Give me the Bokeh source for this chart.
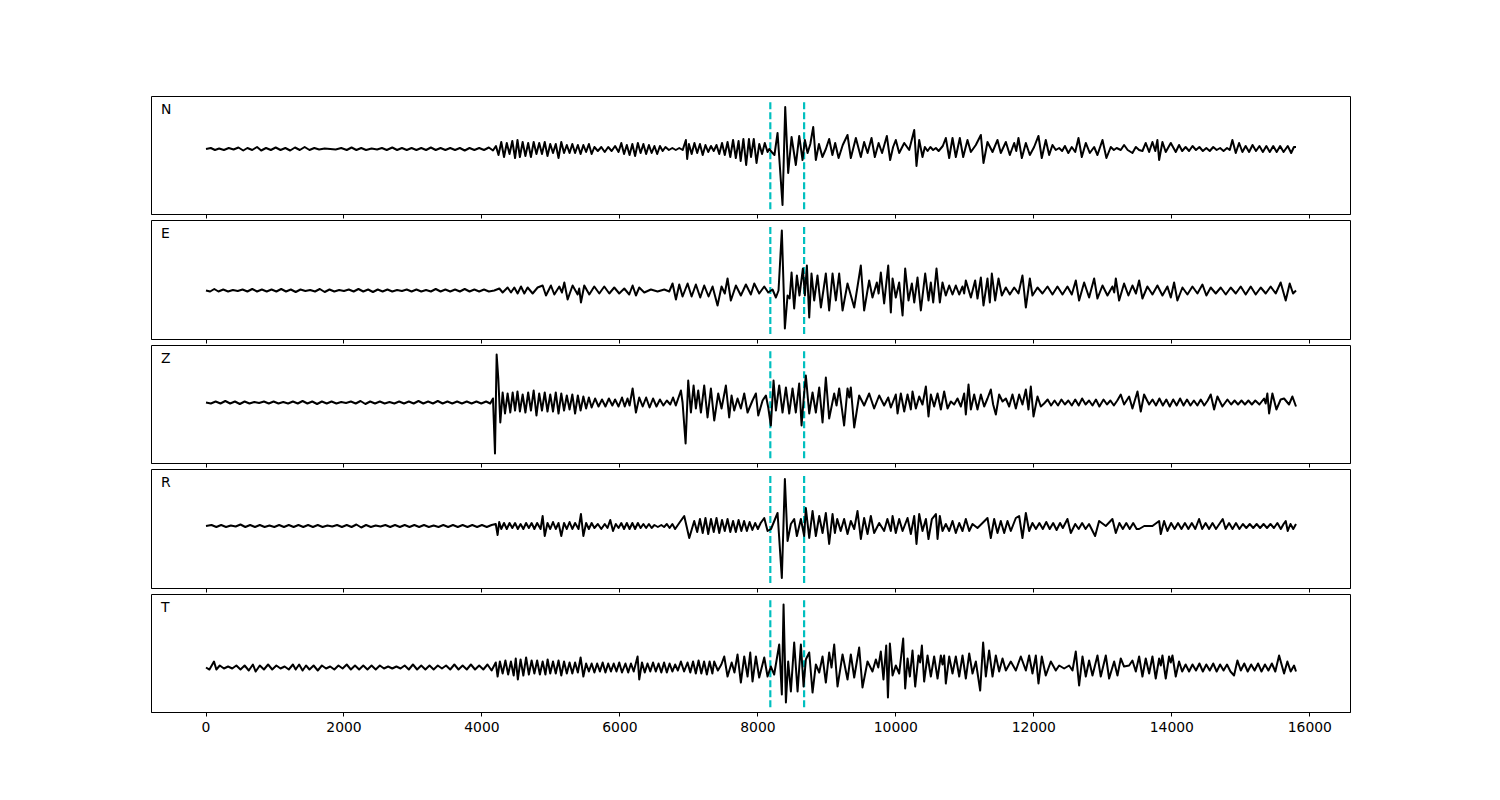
from bokeh.plotting import figure
from bokeh.layouts import column
from bokeh.models import Range1d, FixedTicker, Label
from bokeh.embed import file_html
from bokeh.resources import INLINE

# ---------------- data (time, amplitude) ----------------
components = ["N", "E", "Z", "R", "T"]
arrivals = [8180, 8670]
marker_lo = [-60.1, -43.6, -55.6, -57.1, -39.6]
marker_hi = [47.1, 64.6, 51.6, 51.1, 67.6]
xticks = [0, 2000, 4000, 6000, 8000, 10000, 12000, 14000, 16000]
t_min, t_max = 0, 15800

n_points = [(0,0),(70,1),(130,-1),(190,0.5),(260,-1),(330,1),(400,-0.5),(470,1.5),(540,-1.5),(600,1),
 (670,-1),(740,2),(800,-1.5),(870,1),(940,-1),(1010,1.5),(1080,-1),(1150,1),(1220,-1.5),(1290,1.5),
 (1360,-1),(1430,2),(1500,-1),(1570,1),(1640,-0.5),(1720,0.5),(1800,0),(1880,-0.5),(1960,1),(2040,-1),
 (2110,1.5),(2180,-1),(2250,1),(2320,-1),(2400,0.5),(2480,-0.5),(2550,1),(2620,-1),(2700,1.5),(2770,-1),
 (2840,1),(2910,-1),(2980,1),(3050,-1),(3120,1),(3190,-1),(3260,1.5),(3330,-1),(3400,1),(3470,-1),
 (3540,1),(3610,-1),(3680,1),(3750,-1.5),(3820,1),(3890,-1),(3960,1),(4030,-1),(4100,1.5),(4160,-1.5),
 (4203,3),(4240,-6),(4280,7),(4320,-8),(4360,6),(4400,-5),(4440,8),(4480,-9),(4515,9),(4550,-8),
 (4590,7),(4630,-7),(4670,6),(4710,-8),(4750,7),(4790,-5),(4830,6),(4870,-5),(4910,7),(4950,-7),
 (4990,5),(5030,-4),(5070,5),(5110,-9),(5150,7),(5190,-4),(5230,4),(5270,-4),(5310,5),(5350,-4),
 (5390,4),(5430,-5),(5470,4),(5510,-3),(5550,5),(5590,-5),(5630,2),(5680,-2),(5730,2),(5780,-3),
 (5830,2),(5880,-2),(5930,3),(5980,-3),(6020,6),(6060,-5),(6100,4),(6140,-6),(6180,5),(6220,-7),
 (6260,6),(6300,-4),(6340,5),(6380,-5),(6420,4),(6460,-4),(6500,3),(6540,-5),(6580,3),(6620,-2),
 (6660,2),(6710,-1),(6760,1),(6810,-1),(6860,1),(6910,-1),(6956,9),(6975,-10),(7000,5),(7040,-5),
 (7080,6),(7120,-4),(7160,5),(7200,-6),(7240,4),(7280,-3),(7320,3),(7360,-2),(7400,4),(7440,-5),
 (7480,6),(7520,-6),(7560,7),(7600,-8),(7640,9),(7680,-9),(7720,8),(7750,-12),(7790,10),(7830,-16),
 (7870,10),(7900,-8),(7940,10),(7980,-14),(8020,5),(8060,-5),(8100,6),(8140,-3),(8164,0),(8200,-3),
 (8240,-6),(8285,16),(8357,-56),(8396,42),(8439,-24),(8488,12),(8550,-16),(8599,13),(8647,-11),(8681,9),
 (8720,-4),(8760,5),(8802,22),(8840,-11),(8885,5),(8935,-8),(8985,0),(9033,10),(9080,-6),(9120,6),
 (9170,-9),(9230,4),(9299,14),(9347,-9),(9420,11),(9492,-8),(9540,7),(9590,-4),(9647,11),(9695,-8),
 (9750,6),(9800,-4),(9869,13),(9917,-11),(9960,2),(9999,9),(10048,-4),(10121,6),(10193,-1),(10266,19),
 (10299,-17),(10338,9),(10386,-8),(10420,2),(10460,-2),(10500,2),(10540,-1),(10580,1),(10620,-2),(10680,3),
 (10724,11),(10773,-9),(10821,11),(10869,-8),(10927,11),(10976,-8),(11038,9),(11087,-3),(11159,4),(11232,14),
 (11270,-14),(11328,7),(11401,-3),(11473,9),(11521,-4),(11594,7),(11652,-6),(11715,6),(11745,-2),(11777,11),
 (11826,-9),(11884,6),(11942,-6),(12004,2),(12067,13),(12115,-9),(12173,9),(12222,-6),(12270,4),(12318,-1),
 (12367,1),(12410,-2),(12450,3),(12500,-4),(12550,2),(12600,-3),(12647,11),(12695,-8),(12753,6),(12811,-4),
 (12874,2),(12922,-6),(12995,9),(13052,-9),(13115,2),(13160,-1),(13200,1),(13260,-1),(13308,4),(13360,-1),
 (13429,-4),(13478,2),(13526,-1),(13574,-2),(13622,6),(13671,-3),(13719,7),(13760,-2),(13791,9),(13816,-11),
 (13864,7),(13912,-3),(13985,6),(14057,-3),(14105,4),(14150,-2),(14200,2),(14250,-2),(14300,3),(14350,-1),
 (14400,2),(14450,-2),(14500,1),(14550,-2),(14600,2),(14650,-1),(14700,1),(14750,-2),(14800,1),(14840,-1),
 (14878,9),(14927,-4),(14975,6),(15023,-3),(15070,3),(15120,-3),(15170,4),(15220,-2),(15270,3),(15320,-3),
 (15370,3),(15420,-3),(15470,3),(15520,-3),(15570,3),(15620,-3),(15680,3),(15730,-4),(15770,2),(15800,2)]

e_points = [(0,0),(60,-1),(120,1.5),(180,-1),(250,1),(320,-1),(390,0.5),(460,-0.5),(530,1),(600,-1),
 (670,1.5),(740,-1),(810,1),(880,-1),(950,1),(1020,-1),(1090,1.5),(1160,-1),(1230,1),(1300,-1.5),
 (1370,1),(1440,-0.5),(1510,0.5),(1580,-1),(1650,1.5),(1720,-1.5),(1790,1),(1860,-1),(1930,0.5),(2000,-0.5),
 (2070,1),(2140,-1),(2210,1.5),(2280,-1),(2350,1),(2420,-1.5),(2490,1),(2560,-1),(2630,1),(2700,-1),
 (2770,0.5),(2840,-0.5),(2910,1),(2980,-1),(3050,1),(3120,-1),(3190,0.5),(3260,-1),(3330,1.5),(3400,-1),
 (3470,1),(3540,-1),(3610,1),(3680,-1),(3750,1.5),(3820,-1),(3890,1),(3960,-1),(4030,1),(4100,-1),
 (4179,0),(4252,2),(4300,-2),(4372,3),(4421,-2),(4469,3),(4517,-3),(4566,4),(4614,-3),(4662,3),
 (4735,-3),(4807,3),(4880,5),(4928,-5),(5000,5),(5049,-4),(5121,4),(5160,-2),(5194,8),(5242,-9),
 (5314,5),(5387,-4),(5410,2),(5435,-12),(5483,5),(5556,-4),(5628,4),(5701,-3),(5773,4),(5846,-3),
 (5918,3),(5990,-3),(6063,2),(6135,-4),(6184,5),(6232,-5),(6280,3),(6353,-2),(6449,1),(6546,-1),
 (6643,1),(6715,-1),(6763,7),(6812,-9),(6860,6),(6908,-6),(6981,7),(7039,-6),(7101,6),(7164,-7),
 (7222,5),(7285,-6),(7343,4),(7415,-15),(7473,4),(7520,-3),(7560,12),(7608,-10),(7681,5),(7753,-5),
 (7826,6),(7898,-4),(7947,7),(8019,-3),(8092,4),(8150,-2),(8212,1),(8261,-7),(8299,0),(8347,60),
 (8391,-38),(8430,-5),(8460,-8),(8488,18),(8526,-18),(8565,15),(8603,-5),(8652,22),(8681,-5),(8710,25),
 (8744,-27),(8777,17),(8816,-10),(8864,15),(8913,-17),(8985,17),(9033,-20),(9082,17),(9130,-10),(9178,17),
 (9227,-20),(9299,7),(9396,-17),(9492,25),(9540,-20),(9613,10),(9661,-7),(9724,8),(9750,-3),(9782,18),
 (9830,-13),(9889,25),(9927,-22),(9952,12),(9999,-7),(10048,8),(10097,-25),(10135,22),(10183,-10),(10232,7),
 (10266,-12),(10314,13),(10362,-20),(10425,17),(10473,-10),(10507,8),(10541,-12),(10589,22),(10637,-12),(10676,8),
 (10724,-5),(10773,5),(10821,-4),(10869,5),(10918,-4),(10966,4),(10990,-3),(11014,10),(11087,-7),(11149,10),
 (11183,-8),(11232,13),(11270,-15),(11328,12),(11362,-12),(11391,17),(11439,-10),(11488,12),(11536,-5),(11594,3),
 (11652,-4),(11715,3),(11777,-3),(11835,15),(11884,-17),(11942,12),(11980,-5),(12053,3),(12125,-3),(12198,4),
 (12270,-4),(12342,4),(12415,-4),(12487,4),(12550,-4),(12608,10),(12656,-10),(12729,8),(12801,-7),(12874,12),
 (12922,-8),(12995,5),(13067,-5),(13139,4),(13165,-2),(13188,12),(13236,-10),(13308,7),(13371,-5),(13429,5),
 (13480,-3),(13526,10),(13574,-8),(13646,4),(13719,-4),(13791,5),(13864,-5),(13936,4),(13985,-7),(14033,8),
 (14081,-10),(14154,3),(14226,-4),(14299,4),(14371,-3),(14444,6),(14501,-5),(14564,3),(14637,-3),(14709,3),
 (14782,-4),(14854,3),(14927,-3),(14999,4),(15071,-4),(15144,4),(15216,-4),(15289,3),(15361,-3),(15433,4),
 (15506,-3),(15578,8),(15651,-10),(15709,7),(15757,-3),(15800,0)]

z_points = [(0,0),(70,-1),(140,1),(210,-1),(280,1.5),(350,-1),(420,1),(490,-1.5),(560,1),(630,-1),
 (700,0.5),(770,-0.5),(840,1),(910,-1),(980,1),(1050,-1),(1120,0.5),(1190,-1),(1260,1),(1330,-1),
 (1400,1.5),(1470,-1),(1540,1),(1610,-1.5),(1680,1),(1750,-1),(1820,1),(1890,-1),(1960,0.5),(2030,-0.5),
 (2100,1),(2170,-1),(2240,1.5),(2310,-1.5),(2380,1),(2450,-1),(2520,1),(2590,-1),(2660,0.5),(2730,-1),
 (2800,1),(2870,-1),(2940,1),(3010,-1),(3080,1.5),(3150,-1),(3220,1),(3290,-1),(3360,1.5),(3430,-1),
 (3500,1),(3570,-1),(3640,1),(3710,-1),(3780,1),(3850,-1),(3920,1),(3990,-1),(4060,1),(4120,-1),
 (4160,4),(4189,-51),(4213,48),(4237,24),(4266,-20),(4300,10),(4334,-11),(4372,9),(4411,-10),(4445,10),
 (4480,-8),(4515,11),(4550,-9),(4590,8),(4630,-10),(4670,10),(4710,-8),(4750,12),(4790,-13),(4830,9),
 (4870,-8),(4910,10),(4950,-9),(4990,8),(5030,-9),(5070,10),(5110,-11),(5150,9),(5190,-8),(5230,7),
 (5270,-7),(5310,8),(5350,-11),(5390,7),(5430,-8),(5470,6),(5510,-6),(5550,5),(5590,-5),(5640,4),
 (5690,-4),(5740,3),(5790,-4),(5840,4),(5890,-3),(5930,3),(5980,-4),(6030,5),(6070,-4),(6110,4),
 (6140,-3),(6184,14),(6232,-10),(6280,5),(6330,-4),(6380,5),(6430,-5),(6480,4),(6530,-4),(6580,3),
 (6630,-3),(6680,2),(6730,-2),(6770,5),(6810,-3),(6884,12),(6908,0),(6952,-41),(6990,22),(7029,-10),
 (7068,17),(7101,-6),(7135,12),(7174,-10),(7222,17),(7270,-15),(7319,14),(7367,-18),(7425,9),(7473,-6),
 (7536,17),(7584,-15),(7618,7),(7657,-8),(7705,4),(7753,-6),(7802,9),(7850,-10),(7922,2),(7971,9),
 (8005,-13),(8068,2),(8116,7),(8150,-5),(8188,-23),(8227,22),(8261,-8),(8309,17),(8357,-10),(8406,15),
 (8454,-11),(8502,14),(8550,-10),(8599,19),(8633,-23),(8665,5),(8695,27),(8744,-11),(8792,10),(8840,-10),
 (8889,15),(8937,-20),(8985,25),(9033,-16),(9106,9),(9140,-3),(9178,14),(9250,-23),(9299,14),(9325,5),
 (9347,15),(9396,-25),(9468,7),(9540,-3),(9613,9),(9685,-6),(9758,7),(9830,-3),(9889,5),(9927,-5),
 (9999,8),(10024,-11),(10072,9),(10121,-9),(10169,8),(10217,-7),(10241,11),(10290,-6),(10338,6),(10386,-2),
 (10435,16),(10473,-14),(10507,8),(10555,-4),(10604,9),(10652,-7),(10700,11),(10749,-6),(10797,1),(10845,-2),
 (10893,4),(10942,-4),(10990,9),(11014,-12),(11053,18),(11087,-7),(11135,8),(11183,-7),(11232,8),(11280,-4),
 (11328,4),(11376,13),(11410,-2),(11449,-12),(11497,8),(11546,1),(11594,4),(11642,-4),(11690,8),(11739,-6),
 (11787,8),(11835,-2),(11884,13),(11922,-7),(11956,16),(11995,-14),(12053,6),(12101,-4),(12149,-1),(12200,3),
 (12250,-3),(12300,2),(12350,-3),(12400,3),(12450,-2),(12500,2),(12550,-3),(12600,3),(12650,-3),(12700,4),
 (12750,-2),(12800,2),(12850,-3),(12900,3),(12950,-4),(13010,3),(13060,-2),(13110,2),(13160,-3),(13210,2),
 (13260,8),(13308,-2),(13381,6),(13429,-6),(13502,11),(13550,-9),(13598,8),(13671,-2),(13720,3),(13770,-3),
 (13820,4),(13870,-3),(13920,3),(13970,-4),(14020,3),(14070,-3),(14120,4),(14170,-3),(14220,3),(14270,-3),
 (14320,2),(14370,-3),(14420,3),(14470,-3),(14520,2),(14564,8),(14613,-7),(14661,6),(14733,-4),(14806,3),
 (14860,-2),(14910,2),(14960,-2),(15010,2),(15060,-2),(15110,2),(15160,-2),(15210,2),(15270,-2),(15337,4),
 (15360,-1),(15385,9),(15410,-11),(15458,9),(15516,-7),(15578,3),(15627,4),(15699,-2),(15748,6),(15800,-4)]

r_points = [(0,0),(80,1),(150,-1),(220,1),(290,-1),(360,0.5),(430,-0.5),(500,1.5),(570,-1),(640,1),
 (710,-1),(780,1),(850,-1),(920,0.5),(990,-1),(1060,1),(1130,-1),(1200,1),(1270,-1),(1340,1),
 (1410,-1),(1480,1),(1550,-1),(1620,1),(1690,-1),(1760,0.5),(1830,-0.5),(1900,1),(1970,-1),(2040,1),
 (2110,-1),(2180,1.5),(2250,-1.5),(2320,1),(2390,-1),(2460,0.5),(2530,-0.5),(2600,1),(2670,-1),(2740,1),
 (2810,-1),(2880,1),(2950,-1),(3020,1),(3090,-1),(3160,1),(3230,-1),(3300,0.5),(3370,-1),(3440,1),
 (3510,-1),(3580,1),(3650,-1),(3720,1),(3790,-1),(3860,1),(3930,-1),(4000,1),(4070,-1),(4140,1),
 (4200,2),(4227,-9),(4250,4),(4280,-3),(4320,3),(4360,-3),(4400,3),(4440,-2),(4480,3),(4520,-3),
 (4560,2),(4600,-3),(4640,3),(4680,-2),(4720,3),(4760,-3),(4800,3),(4850,-3),(4880,10),(4910,-10),
 (4950,3),(4990,-3),(5030,4),(5070,-3),(5110,3),(5150,-10),(5190,3),(5230,-3),(5270,4),(5310,-3),
 (5350,3),(5400,-3),(5435,12),(5470,-10),(5510,3),(5550,-3),(5590,3),(5630,-2),(5680,2),(5730,-3),
 (5780,2),(5820,-2),(5860,6),(5900,-5),(5940,2),(5980,-2),(6020,3),(6060,-3),(6100,3),(6140,-3),
 (6180,3),(6220,-3),(6260,3),(6300,-2),(6340,2),(6380,-2),(6420,2),(6460,-2),(6500,1),(6550,-1),
 (6600,1),(6640,-1),(6680,2),(6720,-2),(6760,2),(6800,-3),(6860,3),(6932,10),(7005,-12),(7077,5),
 (7120,-6),(7160,7),(7200,-7),(7240,8),(7280,-8),(7320,7),(7360,-6),(7400,8),(7440,-7),(7480,6),
 (7520,-5),(7560,7),(7600,-6),(7640,5),(7680,-6),(7720,6),(7760,-5),(7800,5),(7840,-5),(7880,4),
 (7920,-4),(7960,3),(8000,-3),(8040,3),(8092,8),(8140,-5),(8190,-3),(8285,13),(8347,-52),(8391,47),
 (8430,-15),(8478,2),(8526,7),(8565,-10),(8623,7),(8671,-10),(8695,18),(8744,-12),(8792,15),(8840,-10),
 (8889,10),(8937,-7),(8985,13),(9033,-18),(9082,12),(9116,-7),(9150,7),(9200,-5),(9250,7),(9299,-8),
 (9347,5),(9396,-3),(9444,15),(9492,-13),(9540,8),(9589,-8),(9637,10),(9685,-7),(9758,3),(9830,-5),
 (9877,7),(9927,-5),(9952,10),(9999,-7),(10048,7),(10097,-5),(10169,8),(10217,-8),(10266,10),(10299,-18),
 (10338,12),(10386,-5),(10435,7),(10473,-13),(10522,7),(10580,12),(10604,-13),(10637,10),(10676,-5),(10724,2),
 (10773,-5),(10821,5),(10869,-7),(10918,3),(10966,-5),(11014,7),(11063,-5),(11111,2),(11183,-2),(11256,3),
 (11328,8),(11376,-12),(11425,7),(11473,-7),(11521,5),(11570,-7),(11618,5),(11666,-5),(11739,8),(11787,10),
 (11835,-12),(11884,13),(11932,-5),(11980,3),(12030,-3),(12080,3),(12130,-3),(12180,4),(12230,-3),(12280,3),
 (12330,-4),(12380,3),(12420,-2),(12487,7),(12536,-7),(12600,2),(12650,-3),(12700,3),(12750,-3),(12800,2),
 (12888,-10),(12946,5),(13043,0),(13139,7),(13188,-7),(13240,3),(13290,-3),(13340,3),(13390,-3),(13440,3),
 (13490,-3),(13526,-3),(13600,0),(13671,0),(13719,0),(13816,5),(13840,-8),(13888,5),(13936,-5),(13990,3),
 (14040,-3),(14090,3),(14140,-3),(14190,3),(14240,-3),(14290,3),(14340,-3),(14395,7),(14440,-3),(14490,3),
 (14540,-3),(14590,3),(14640,-3),(14738,7),(14780,-3),(14830,3),(14880,-3),(14930,3),(14980,-3),(15030,2),
 (15080,-2),(15130,2),(15180,-2),(15230,2),(15280,-2),(15330,2),(15380,-2),(15430,2),(15480,-2),(15530,3),
 (15580,-3),(15620,2),(15651,5),(15680,-5),(15720,2),(15760,-3),(15800,2)]

t_points = [(0,0),(50,-2),(116,6),(150,-2),(200,2),(260,-1),(320,1),(380,-1),(440,2),(500,-2),
 (560,2),(620,-3),(680,3),(720,-4),(780,2),(840,-2),(900,3),(960,-2),(1020,2),(1080,-1),
 (1140,1),(1200,-2),(1260,3),(1300,-2),(1350,3),(1400,-3),(1450,2),(1500,-2),(1560,2),(1620,-3),
 (1680,2),(1740,-1),(1800,1),(1860,-2),(1920,2),(1980,-1),(2040,3),(2100,-2),(2160,2),(2220,-2),
 (2280,2),(2340,-2),(2400,2),(2460,-2),(2520,2),(2580,-1),(2640,1),(2700,-1),(2760,1),(2820,-1),
 (2880,2),(2940,-2),(3000,3),(3060,-2),(3120,2),(3180,-2),(3240,2),(3300,-2),(3360,2),(3420,-1),
 (3480,2),(3540,-2),(3600,3),(3660,-2),(3720,2),(3780,-2),(3840,3),(3900,-2),(3960,2),(4020,-2),
 (4080,3),(4140,-3),(4200,5),(4227,-9),(4260,6),(4300,-6),(4340,7),(4380,-7),(4420,6),(4460,-8),
 (4490,9),(4520,-12),(4560,8),(4600,-8),(4640,10),(4680,-7),(4720,7),(4760,-6),(4800,7),(4840,-7),
 (4880,6),(4920,-7),(4952,8),(4990,-6),(5030,6),(5070,-6),(5110,7),(5150,-8),(5190,6),(5230,-6),
 (5270,5),(5310,-6),(5350,5),(5390,-5),(5430,10),(5470,-9),(5510,4),(5550,-4),(5590,4),(5630,-5),
 (5670,4),(5710,-4),(5750,5),(5790,-5),(5830,4),(5870,-4),(5910,4),(5950,-4),(5990,5),(6030,-5),
 (6080,4),(6120,-5),(6160,4),(6200,-4),(6256,11),(6280,-12),(6320,5),(6360,-5),(6400,4),(6440,-4),
 (6480,5),(6520,-4),(6560,4),(6600,-5),(6640,5),(6680,-5),(6720,4),(6760,-4),(6800,3),(6840,-3),
 (6884,6),(6930,-4),(6980,5),(7020,-5),(7060,6),(7100,-6),(7140,7),(7180,-6),(7220,6),(7260,-7),
 (7300,6),(7340,-6),(7367,6),(7420,-3),(7470,3),(7512,11),(7560,-9),(7620,5),(7660,-5),(7705,13),
 (7753,-15),(7802,11),(7850,-9),(7889,15),(7922,-14),(7971,11),(8019,-10),(8092,10),(8140,-9),(8188,1),
 (8236,-7),(8309,23),(8347,-27),(8372,63),(8406,-35),(8439,6),(8478,-24),(8526,25),(8575,-24),(8623,23),
 (8662,-19),(8695,8),(8744,15),(8792,-25),(8840,3),(8889,-5),(8937,11),(8985,-15),(9033,15),(9067,0),
 (9106,23),(9154,-19),(9227,13),(9299,-12),(9347,13),(9396,-10),(9468,20),(9516,-20),(9589,6),(9661,-4),
 (9710,8),(9745,0),(9782,16),(9820,-12),(9860,22),(9885,-30),(9913,24),(9952,-8),(9999,2),(10048,-6),
 (10106,29),(10135,-21),(10169,9),(10203,-9),(10241,17),(10280,-19),(10328,12),(10352,5),(10377,22),(10410,-14),
 (10459,12),(10507,-9),(10555,11),(10604,-11),(10652,12),(10676,3),(10700,12),(10724,-16),(10773,11),(10821,-6),
 (10869,11),(10918,-9),(10966,12),(11014,-11),(11063,14),(11111,-6),(11159,6),(11222,-23),(11265,25),(11304,-9),
 (11352,17),(11401,-9),(11449,12),(11497,-4),(11546,9),(11594,-3),(11666,6),(11739,-3),(11811,11),(11884,-3),
 (11932,12),(11980,-6),(12029,12),(12067,-16),(12115,11),(12173,-8),(12246,6),(12318,-3),(12367,2),(12439,-1),
 (12511,2),(12560,-3),(12608,16),(12656,-18),(12705,11),(12753,-9),(12801,7),(12850,-8),(12922,12),(12970,-9),
 (13043,12),(13091,-11),(13164,6),(13212,-8),(13260,9),(13308,1),(13381,2),(13429,7),(13478,-4),(13526,11),
 (13574,-9),(13622,9),(13671,-6),(13719,11),(13767,-11),(13816,9),(13840,2),(13864,12),(13912,-11),(13960,11),
 (13985,5),(14009,12),(14057,-9),(14105,6),(14150,-4),(14200,3),(14250,-4),(14300,3),(14350,-3),(14400,4),
 (14450,-4),(14500,3),(14550,-3),(14600,4),(14650,-4),(14700,3),(14750,-3),(14800,3),(14850,-4),(14902,-8),
 (14951,7),(15000,-3),(15050,4),(15100,-4),(15150,3),(15200,-3),(15250,4),(15300,-4),(15350,3),(15400,-3),
 (15450,4),(15500,-4),(15555,12),(15627,-6),(15675,6),(15723,-4),(15772,2),(15800,-4)]

traces = [n_points, e_points, z_points, r_points, t_points]

# ---------------- layout ----------------
FONT = "DejaVu Sans"
frame_heights = [118, 119, 118, 119, 118]
pad_frac = 0.05
x_pad = pad_frac * (t_max - t_min)
x_range = Range1d(t_min - x_pad, t_max + x_pad)

figs = []
for i, comp in enumerate(components):
    lo, hi = marker_lo[i], marker_hi[i]
    ypad = pad_frac * (hi - lo)
    y0, y1 = lo - ypad, hi + ypad
    last = (i == len(components) - 1)
    p = figure(frame_width=1199, frame_height=frame_heights[i],
               x_range=x_range, y_range=Range1d(y0, y1),
               output_backend="svg", toolbar_location=None,
               y_axis_location=None,
               min_border_left=151, min_border_right=140,
               min_border_top=96 if i == 0 else 0,
               min_border_bottom=44 if last else 6,
               background_fill_color="white", border_fill_color="white")
    p.xgrid.visible = False
    p.ygrid.visible = False
    p.outline_line_color = "black"
    p.outline_line_width = 1
    p.outline_line_alpha = 1.0

    ax = p.xaxis[0]
    ax.ticker = FixedTicker(ticks=xticks, minor_ticks=[])
    ax.major_tick_in = 0
    ax.major_tick_out = 4
    ax.minor_tick_in = 0
    ax.minor_tick_out = 0
    ax.axis_line_color = "black"
    ax.major_tick_line_color = "black"
    if last:
        ax.major_label_text_font = FONT
        ax.major_label_text_font_size = "13.9px"
        ax.major_label_text_color = "black"
        ax.major_label_standoff = 5
    else:
        ax.major_label_overrides = {tk: "" for tk in xticks}
        ax.major_label_text_font_size = "0px"
        ax.major_label_standoff = 0

    # arrival markers
    p.segment(x0=arrivals, y0=[lo] * len(arrivals), x1=arrivals, y1=[hi] * len(arrivals),
              line_color="#00BFBF", line_width=2.2, line_dash="7 3")

    tt = [pt[0] for pt in traces[i]]
    aa = [pt[1] for pt in traces[i]]
    p.line(tt, aa, line_color="black", line_width=2, line_join="round")

    lab_x = x_range.start + 0.008 * (x_range.end - x_range.start)
    lab_y = y0 + 0.892 * (y1 - y0)
    p.add_layout(Label(x=lab_x, y=lab_y, text=comp, text_font=FONT,
                       text_font_size="13.9px", text_color="black",
                       text_baseline="alphabetic", text_align="left"))
    figs.append(p)

layout = column(*figs)
open("out.html", "w").write(file_html(layout, INLINE))
